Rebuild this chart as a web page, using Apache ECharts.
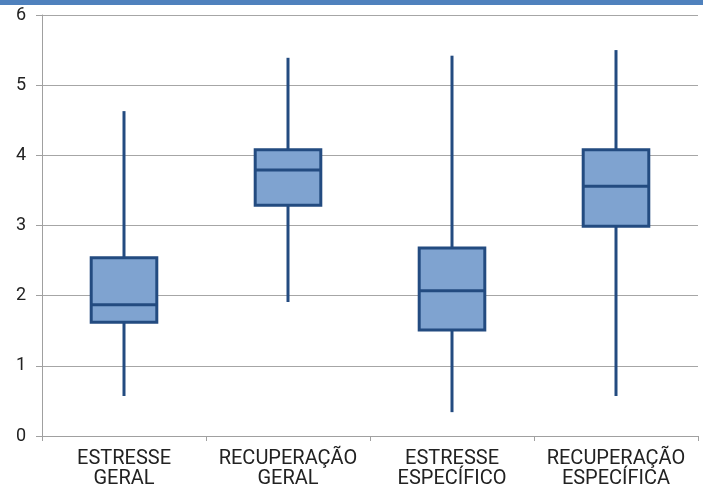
<!DOCTYPE html>
<html><head><meta charset="utf-8">
<script src="https://cdn.jsdelivr.net/npm/echarts@6/dist/echarts.min.js"></script>
<style>html,body{margin:0;padding:0;background:#fff}#c{width:703px;height:490px}</style>
</head><body><div id="c"></div>
<script>
const categories = ['ESTRESSE\nGERAL', 'RECUPERAÇÃO\nGERAL', 'ESTRESSE\nESPECÍFICO', 'RECUPERAÇÃO\nESPECÍFICA'];
const minVals = [0.57, 1.91, 0.34, 0.57];
const q1Vals = [1.62, 3.29, 1.51, 2.99];
const medianVals = [1.87, 3.79, 2.07, 3.56];
const q3Vals = [2.54, 4.08, 2.68, 4.08];
const maxVals = [4.63, 5.39, 5.42, 5.50];
const yTicks = [0, 1, 2, 3, 4, 5, 6];

const boxData = categories.map((c, i) => [i, minVals[i], q1Vals[i], medianVals[i], q3Vals[i], maxVals[i]]);
const chart = echarts.init(document.getElementById('c'));
const stroke = '#234b80', fill = '#7fa3d0';
chart.setOption({
  animation: false,
  graphic: [{type: 'rect', left: 0, top: 0, shape: {width: 703, height: 5}, style: {fill: '#4f81bd'}}],
  grid: {left: 42, right: 5, top: 15, bottom: 54},
  xAxis: {
    type: 'category', data: categories,
    axisLine: {lineStyle: {color: '#a0a0a0', width: 1}},
    axisTick: {show: true, length: 5, lineStyle: {color: '#a0a0a0'}},
    axisLabel: {color: '#222', fontFamily: 'Roboto', fontSize: 20, lineHeight: 20, margin: 13, interval: 0}
  },
  yAxis: {
    type: 'value', min: 0, max: 6, interval: 1,
    axisLine: {show: true, lineStyle: {color: '#a0a0a0'}},
    axisTick: {show: true, length: 6, lineStyle: {color: '#a0a0a0'}},
    splitLine: {lineStyle: {color: '#a6a6a6', width: 1}},
    axisLabel: {color: '#222', fontFamily: 'Roboto', fontSize: 18, margin: 16,
      formatter: v => yTicks.includes(v) ? String(v) : ''}
  },
  series: [{
    type: 'custom', data: boxData,
    encode: {x: 0, y: [1, 2, 3, 4, 5]},
    renderItem: function (params, api) {
      const i = api.value(0);
      const bw = api.size([1, 0])[0] * 0.4;
      const pMin = api.coord([i, api.value(1)]);
      const pQ1 = api.coord([i, api.value(2)]);
      const pMed = api.coord([i, api.value(3)]);
      const pQ3 = api.coord([i, api.value(4)]);
      const pMax = api.coord([i, api.value(5)]);
      const x = pMin[0];
      const ls = {stroke: stroke, lineWidth: 3};
      return {type: 'group', children: [
        {type: 'line', shape: {x1: x, y1: pMax[1], x2: x, y2: pQ3[1]}, style: ls},
        {type: 'line', shape: {x1: x, y1: pQ1[1], x2: x, y2: pMin[1]}, style: ls},
        {type: 'rect', shape: {x: x - bw / 2, y: pQ3[1], width: bw, height: pQ1[1] - pQ3[1]}, style: {fill: fill, stroke: stroke, lineWidth: 3}},
        {type: 'line', shape: {x1: x - bw / 2, y1: pMed[1], x2: x + bw / 2, y2: pMed[1]}, style: ls}
      ]};
    }
  }]
});
</script></body></html>
